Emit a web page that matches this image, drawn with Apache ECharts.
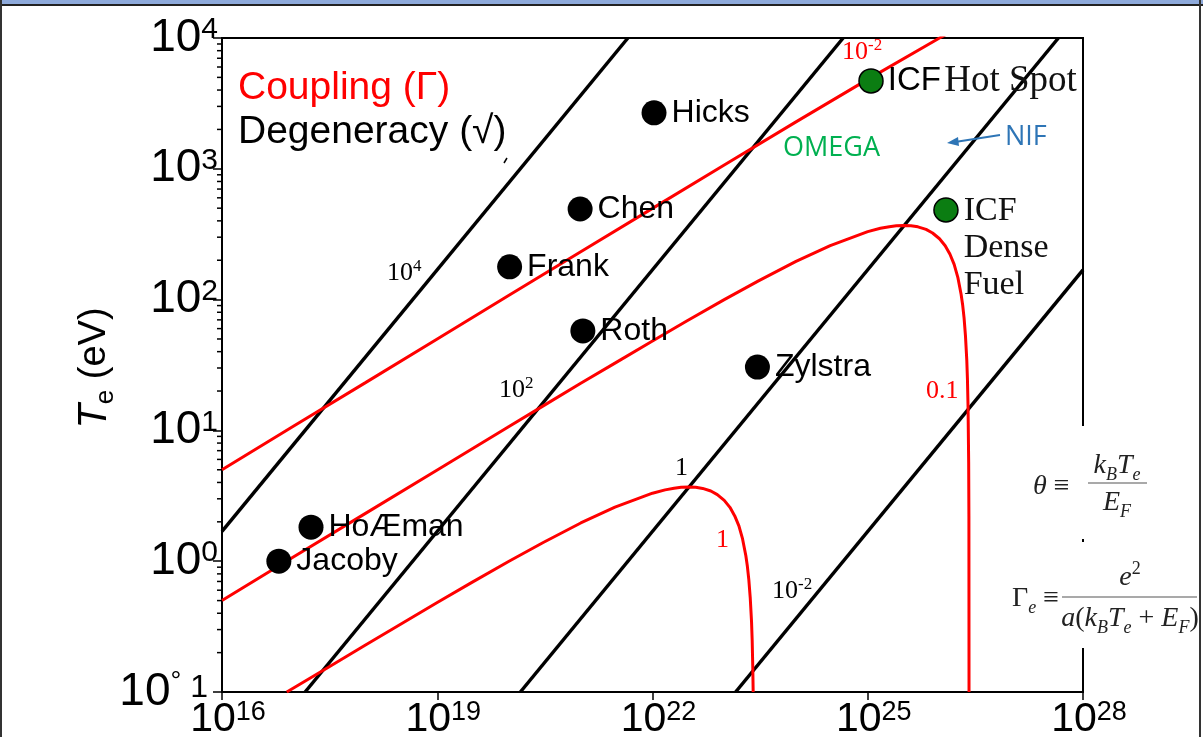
<!DOCTYPE html>
<html><head><meta charset="utf-8">
<script src="https://cdn.jsdelivr.net/npm/echarts@6/dist/echarts.min.js"></script>
<style>html,body{margin:0;padding:0;background:#fff;overflow:hidden}#c{width:1203px;height:737px}</style>
</head><body><div id="c"></div>
<script>
// ---- data (density n in cm^-3, temperature T_e in eV) ----
const xTickExponents = [16, 19, 22, 25, 28];
const yTickExponents = [-1, 0, 1, 2, 3, 4];
const minorMultipliers = [2, 3, 4, 5, 6, 7, 8, 9];

// degeneracy lines (theta = k_B T_e / E_F)
const theta1e4 = [[1e16, 1.69], [4.54e21, 1e4]];
const theta1e2 = [[1.44e17, 0.1], [4.54e24, 1e4]];
const theta1 = [[1.44e20, 0.1], [4.54e27, 1e4]];
const theta1em2 = [[1.44e23, 0.1], [1e28, 169]];

// coupling curves
const gamma1 = [[8e16, 0.1], [3e17, 0.154], [1e18, 0.229], [3e18, 0.327], [1e19, 0.483], [3e19, 0.686],
  [1e20, 0.999], [3e20, 1.39], [1e21, 1.96], [3e21, 2.59], [1e22, 3.31], [1.5e22, 3.51], [2e22, 3.61],
  [2.5e22, 3.67], [3.2e22, 3.69], [4e22, 3.67], [5e22, 3.60], [6.5e22, 3.44], [8e22, 3.23], [1e23, 2.92],
  [1.2e23, 2.58], [1.4e23, 2.22], [1.6e23, 1.86], [1.8e23, 1.48], [2e23, 1.10], [2.1e23, 0.914],
  [2.2e23, 0.724], [2.3e23, 0.53], [2.4e23, 0.345], [2.45e23, 0.249], [2.5e23, 0.152], [2.53e23, 0.1]];
const gamma01 = [[1e16, 0.50], [1e17, 1.08], [1e18, 2.32], [1e19, 4.98], [1e20, 10.7], [3e20, 15.4],
  [1e21, 22.9], [3e21, 32.7], [1e22, 48.3], [3e22, 68.6], [1e23, 99.9], [3e23, 139], [1e24, 196],
  [3e24, 259], [1e25, 331], [1.5e25, 351], [2e25, 361], [2.5e25, 367], [3.2e25, 369], [4e25, 367],
  [5e25, 360], [6.5e25, 344], [8e25, 323], [1e26, 292], [1.2e26, 258], [1.4e26, 222], [1.6e26, 186],
  [1.8e26, 148], [2e26, 110], [2.1e26, 91.4], [2.2e26, 72.4], [2.3e26, 53], [2.4e26, 34.5],
  [2.45e26, 24.9], [2.5e26, 15.2], [2.55e26, 5.7], [2.57e26, 2.2], [2.58e26, 0.1]];
const gamma001 = [[1e16, 5.0], [1e17, 10.8], [1e18, 23.2], [1e19, 50.0], [1e20, 108], [1e21, 232],
  [1e22, 498], [1e23, 1069], [1e24, 2285], [1e25, 4830], [1e26, 9990], [1.2e26, 10560]];

// experiments
const pointNames = ['Jacoby', 'HoÆman', 'Frank', 'Chen', 'Roth', 'Hicks', 'Zylstra'];
const pointDensity = [6.2e16, 1.74e17, 1.02e20, 9.8e20, 1.07e21, 1.05e22, 2.9e23];
const pointTemp = [1.0, 1.82, 178, 493, 57.6, 2680, 30.5];
const icfNames = ['ICF Hot Spot', 'ICF Dense Fuel'];
const icfDensity = [1.11e25, 1.23e26];
const icfTemp = [4700, 485];

// ---- chart ----
const SANS = "'Liberation Sans', Arial, sans-serif";
const SERIF = "'Liberation Serif', 'Times New Roman', serif";
const chart = echarts.init(document.getElementById('c'), null, {renderer: 'canvas'});

const yMinor = [];
yTickExponents.slice(0, -1).forEach(e => minorMultipliers.forEach(m => yMinor.push(m * Math.pow(10, e))));

function lineSeries(data, color, width) {
  return {type: 'line', data: data, showSymbol: false, symbol: 'none', clip: true,
    lineStyle: {color: color, width: width}, silent: true, z: 3};
}

const yRich = {
  b: {fontSize: 46, fontFamily: SANS, color: '#000', lineHeight: 46},
  s: {fontSize: 30, fontFamily: SANS, color: '#000', lineHeight: 46, verticalAlign: 'top'},
  d: {fontSize: 27, fontFamily: SANS, color: '#000', lineHeight: 46, verticalAlign: 'top'},
  m: {fontSize: 32, fontFamily: SANS, color: '#000', lineHeight: 46, padding: [0, 10, 8, 0]}
};
const xRich = {
  b: {fontSize: 41, fontFamily: SANS, color: '#000', lineHeight: 42, padding: [0, 0, 0, 12]},
  s: {fontSize: 27, fontFamily: SANS, color: '#000', lineHeight: 42, verticalAlign: 'top'}
};

function serifPow(base, exp, color, size) {
  return {
    text: '{n|' + base + '}' + (exp ? '{s|' + exp + '}' : ''),
    rich: {
      n: {fontSize: size, fontFamily: SERIF, fill: color, lineHeight: size + 4},
      s: {fontSize: Math.round(size * 0.66), fontFamily: SERIF, fill: color, lineHeight: size + 4, verticalAlign: 'top'}
    }
  };
}
function txt(x, y, style) {
  return {type: 'text', x: x, y: y, z: 100, silent: true, style: Object.assign({verticalAlign: 'middle', align: 'left'}, style)};
}

const lineLabels = [
  [387, 273, '10', '4', '#000'], [499, 390, '10', '2', '#000'], [675, 468, '1', '', '#000'],
  [772, 591, '10', '-2', '#000'], [842, 52, '10', '-2', '#ff0000'], [926, 391, '0.1', '', '#ff0000'],
  [716, 540, '1', '', '#ff0000']
];

const fRich = {
  i: {fontSize: 28, fontFamily: SERIF, fontStyle: 'italic', fill: '#222'},
  r: {fontSize: 28, fontFamily: SERIF, fill: '#222'},
  sb: {fontSize: 18, fontFamily: SERIF, fontStyle: 'italic', fill: '#222', verticalAlign: 'bottom', lineHeight: 36},
  sp: {fontSize: 18, fontFamily: SERIF, fill: '#222', verticalAlign: 'top', lineHeight: 36}
};

const graphics = [
  {type: 'rect', shape: {x: 0, y: 0, width: 1203, height: 4}, style: {fill: '#8eaadb'}, z: 100, silent: true},
  {type: 'rect', shape: {x: 0, y: 4, width: 1203, height: 2}, style: {fill: '#222'}, z: 100, silent: true},
  {type: 'rect', shape: {x: 0, y: 0, width: 2, height: 737}, style: {fill: '#333'}, z: 100, silent: true},
  {type: 'rect', shape: {x: 1199, y: 0, width: 2, height: 737}, style: {fill: '#333'}, z: 100, silent: true},
  {type: 'rect', shape: {x: 1001, y: 426, width: 197, height: 222}, style: {fill: '#fff'}, z: 90, silent: true},
  {type: 'rect', shape: {x: 1082, y: 539, width: 2, height: 3}, style: {fill: '#000'}, z: 100, silent: true},
  txt(238, 88, {text: 'Coupling (Γ)', font: '39px ' + SANS, fill: '#ff0000'}),
  txt(238, 132, {text: 'Degeneracy (√)', font: '39px ' + SANS, fill: '#000'}),
  {type: 'line', shape: {x1: 504, y1: 163, x2: 507, y2: 158}, style: {stroke: '#000', lineWidth: 1.5}, z: 100, silent: true},
  txt(783, 148, {text: 'OMEGA', font: '27px "Open Sans", ' + SANS, fill: '#00b050'}),
  txt(1005, 137, {text: 'NIF', font: '27px "Open Sans", ' + SANS, fill: '#2e75b6'}),
  {type: 'line', shape: {x1: 1000, y1: 135, x2: 955, y2: 142}, style: {stroke: '#2e75b6', lineWidth: 2}, z: 100, silent: true},
  {type: 'polygon', shape: {points: [[947, 143], [958, 137], [959, 146]]}, style: {fill: '#2e75b6'}, z: 100, silent: true},
  {type: 'text', x: 95, y: 368, rotation: Math.PI / 2, z: 100, silent: true,
    style: {text: '{t|T}{e|e}{u| (eV)}', align: 'center', verticalAlign: 'middle',
      rich: {t: {fontSize: 40, fontFamily: SANS, fontStyle: 'italic', fill: '#000', lineHeight: 48},
        e: {fontSize: 26, fontFamily: SANS, fill: '#000', verticalAlign: 'bottom', lineHeight: 44},
        u: {fontSize: 38, fontFamily: SANS, fill: '#000', lineHeight: 48}}}},
  txt(1033, 487, {text: '{i|θ}{r| ≡}', rich: fRich}),
  {type: 'text', x: 1117, y: 466, z: 100, silent: true, style: {text: '{i|k}{sb|B}{i|T}{sb|e}', align: 'center', verticalAlign: 'middle', rich: fRich}},
  {type: 'line', shape: {x1: 1088, y1: 483, x2: 1147, y2: 483}, style: {stroke: '#555', lineWidth: 1.2}, z: 100, silent: true},
  {type: 'text', x: 1117, y: 503, z: 100, silent: true, style: {text: '{i|E}{sb|F}', align: 'center', verticalAlign: 'middle', rich: fRich}},
  txt(1012, 599, {text: '{r|Γ}{sb|e}{r| ≡}', rich: fRich}),
  {type: 'text', x: 1130, y: 578, z: 100, silent: true, style: {text: '{i|e}{sp|2}', align: 'center', verticalAlign: 'middle', rich: fRich}},
  {type: 'line', shape: {x1: 1062, y1: 597, x2: 1197, y2: 597}, style: {stroke: '#555', lineWidth: 1.2}, z: 100, silent: true},
  {type: 'text', x: 1130, y: 619, z: 100, silent: true, style: {text: '{i|a}{r|(}{i|k}{sb|B}{i|T}{sb|e}{r| + }{i|E}{sb|F}{r|)}', align: 'center', verticalAlign: 'middle', rich: fRich}}
];
lineLabels.forEach(l => {
  const p = serifPow(l[2], l[3], l[4], 26);
  graphics.push({type: 'text', x: l[0], y: l[1], z: 100, silent: true,
    style: {text: p.text, rich: p.rich, align: 'left', verticalAlign: 'middle'}});
});

const option = {
  animation: false,
  backgroundColor: '#fff',
  grid: {left: 222, top: 38, right: 120, bottom: 45, containLabel: false, outerBoundsMode: 'none',
    show: true, borderColor: '#000', borderWidth: 2, backgroundColor: '#fff'},
  xAxis: {
    type: 'log', logBase: 10, min: 1e16, max: 1e28, interval: 3,
    axisLine: {show: true, lineStyle: {color: '#000', width: 2}},
    axisTick: {show: true, inside: false, length: 8, lineStyle: {color: '#000', width: 1.5}},
    minorTick: {show: false}, splitLine: {show: false},
    axisLabel: {margin: 7, formatter: v => '{b|10}{s|' + Math.round(Math.log10(v)) + '}', rich: xRich}
  },
  yAxis: {
    type: 'log', logBase: 10, min: 0.1, max: 1e4, interval: 1,
    axisLine: {show: true, lineStyle: {color: '#000', width: 2}},
    axisTick: {show: true, inside: false, length: 9, lineStyle: {color: '#000', width: 1.5}},
    minorTick: {show: false}, splitLine: {show: false},
    axisLabel: {margin: 4, formatter: v => {
      const e = Math.round(Math.log10(v));
      if (e === -1) return '{b|10}{d|°}{m| 1}';
      return '{b|10}{s|' + e + '}';
    }, rich: yRich}
  },
  graphic: graphics,
  series: [
    lineSeries(theta1e4, '#000', 3.5),
    lineSeries(theta1e2, '#000', 3.5),
    lineSeries(theta1, '#000', 3.5),
    lineSeries(theta1em2, '#000', 3.5),
    lineSeries(gamma001, '#ff0000', 3),
    lineSeries(gamma01, '#ff0000', 3),
    lineSeries(gamma1, '#ff0000', 3),
    {type: 'scatter', z: 5, symbolSize: 25, itemStyle: {color: '#000', opacity: 1},
      data: pointNames.map((n, i) => ({name: n, value: [pointDensity[i], pointTemp[i]]})),
      label: {show: true, position: 'right', distance: 5, formatter: p => p.name,
        fontSize: 32, fontFamily: SANS, color: '#000'}},
    {type: 'scatter', z: 5, symbolSize: 24, itemStyle: {color: '#0b7d12', borderColor: '#000', borderWidth: 1.5, opacity: 1},
      data: [
        {name: icfNames[0], value: [icfDensity[0], icfTemp[0]],
          label: {show: true, position: 'right', distance: 4, formatter: '{a|ICF} {b|Hot Spot}',
            rich: {a: {fontSize: 33, fontFamily: SANS, color: '#000'}, b: {fontSize: 37, fontFamily: SERIF, color: '#111'}}}},
        {name: icfNames[1], value: [icfDensity[1], icfTemp[1]],
          label: {show: true, position: 'right', distance: 5, offset: [0, 38], align: 'left',
            formatter: 'ICF\nDense\nFuel', fontSize: 34, lineHeight: 37, fontFamily: SERIF, color: '#111'}}
      ]}
  ]
};
chart.setOption(option);

// minor ticks of the log y axis, placed through the axis scale
const minorTickGraphics = yMinor.map(v => {
  const p = chart.convertToPixel({xAxisIndex: 0, yAxisIndex: 0}, [1e16, v]);
  return {type: 'line', z: 100, silent: true, shape: {x1: p[0] - 5, y1: p[1], x2: p[0], y2: p[1]},
    style: {stroke: '#000', lineWidth: 1.5}};
});
chart.setOption({graphic: graphics.concat(minorTickGraphics)});
</script>
</body></html>
